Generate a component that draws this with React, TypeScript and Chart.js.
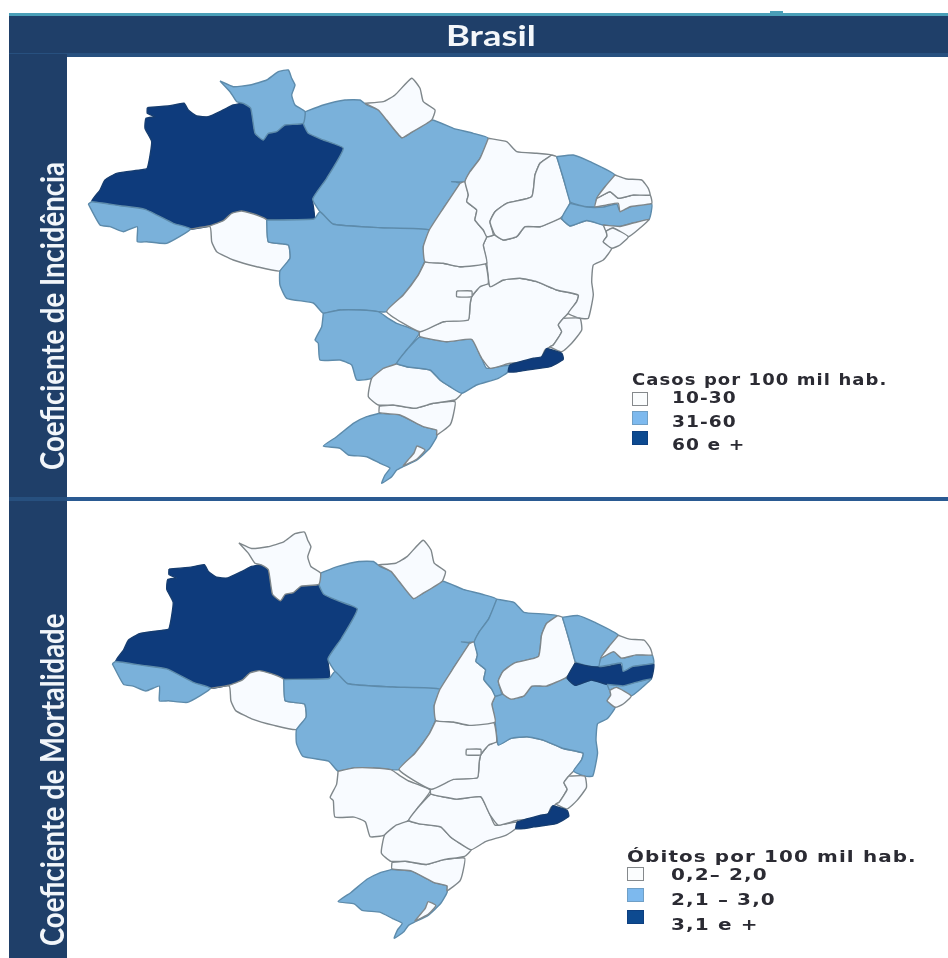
import React, { useEffect, useRef } from "react";
import { Chart, registerables } from "chart.js";

Chart.register(...registerables);

// ---- Map outlines, in map units ----
const AM = [[147.3,107.7],[170,105.7],[184,103.3],[188.3,110],[196.7,116],[208.3,116.7],[223.3,110],[233.3,105],[243.3,103.3],[250.7,108.3],[255,133.3],[263.3,140],[268.3,133.3],[276.7,131.7],[285,125],[303.3,123.3],[308.3,133.3],[323.3,140],[343.3,148.3],[326.7,178.3],[312.7,199],[314,219],[263.3,219],[256.7,215],[241.7,211],[231.7,213.3],[223.3,220.7],[210,225.7],[190.7,229],[173.3,223.3],[145,209.3],[120,205.7],[91.7,201.7],[100,190],[105,180],[116.7,173.3],[140,170],[147.3,168.3],[151.7,141.7],[145,128.3],[146,118.3],[155,116.7],[147.3,113.3]];
const AC = [[88.3,204],[100,225],[110,226.7],[123.3,231.7],[137.3,226.7],[137.3,241.7],[146.7,241.7],[166.7,243.3],[190.7,229],[173.3,223.3],[145,209.3],[120,205.7],[91.7,201.7]];
const RR = [[220,81],[233.3,86.7],[250,85],[266.7,80],[278.3,71.7],[288.3,70],[291.7,78.3],[295,85],[291.7,95],[295,105],[305,111.7],[303.3,123.3],[285,125],[276.7,131.7],[268.3,133.3],[263.3,140],[255,133.3],[250.7,108.3],[243.3,103.3],[236.7,101.7],[230,91.7]];
const RO = [[190.7,229],[210,226.7],[211.7,241.7],[216.7,251.7],[233.3,260],[256.7,266.7],[280,271],[290,258.3],[288.3,245],[268.3,241.7],[266.7,220],[256.7,215],[241.7,211],[231.7,213.3],[223.3,220.7],[210,225.7]];
const PA = [[305,111.7],[323.3,105],[345,100],[360,100],[366.7,105],[378.3,110],[386.7,120],[401.7,137.7],[410,133.3],[431.7,120],[453.3,128.3],[473.3,133.3],[488.3,138.3],[480,158.3],[470,171.7],[465,181.7],[451.7,181.7],[460,183.3],[443.3,208.3],[429.3,230],[380,227.7],[333.3,224.3],[320,211.7],[312.7,199],[326.7,178.3],[343.3,148.3],[323.3,140],[308.3,133.3],[303.3,123.3]];
const AP = [[365,103.3],[383.3,101.7],[395,95],[411.7,78.3],[420,88.3],[423.3,101.7],[435,110],[431.7,120],[410,133.3],[401.7,137.7],[386.7,120],[378.3,110]];
const MT = [[266.7,220],[314,219],[320,211.7],[333.3,224.3],[380,227.7],[429.3,230],[423.3,246.7],[425,260],[418.3,275],[403.3,295],[386.7,311.7],[378.3,311.7],[360,310],[340,310],[323.3,313.3],[313.3,303],[286.7,298.3],[280,285],[280,271],[290,258.3],[288.3,245],[268.3,241.7]];
const MS = [[323.3,313.3],[340,310],[360,310],[378.3,311.7],[388.3,318.3],[396.7,323.3],[419.3,332.7],[406.7,350],[396.7,363.3],[371.7,378.3],[356.7,380],[351.7,365],[340,360],[320,360],[318.3,343.3],[315,340],[321.7,326.7]];
const GO = [[425,261.7],[443.3,263.3],[460,266.7],[485,263.3],[488.3,283.3],[480,286.7],[471.7,296.7],[470,305],[468.3,320],[443.3,321.7],[420,331.7],[386.7,311.7],[403.3,295],[418.3,275]];
const DF = [[456.7,291],[471.7,291],[471.7,296.7],[456.7,296.7]];
const TO = [[460,183.3],[465,181.7],[468.3,195],[466.7,201.7],[476.7,210],[475,220],[483.3,230],[486.7,236.7],[483.3,245],[486.7,263.3],[460,266.7],[443.3,263.3],[425,261.7],[423.3,246.7],[429.3,230],[443.3,208.3]];
const MA = [[488.3,138.3],[506.7,141.7],[516.7,151.7],[536.7,153.3],[551.7,155],[540,163.3],[535,175],[531.7,196.7],[506.7,203.3],[495,211.7],[490,221.7],[493.3,235],[486.7,236.7],[483.3,230],[475,220],[476.7,210],[466.7,201.7],[468.3,195],[465,181.7],[470,171.7],[480,158.3]];
const PI = [[551.7,155],[556.7,156.7],[563.3,178.3],[570,201.7],[566.7,211.7],[560,218.3],[540,226.7],[525,226.7],[516.7,236.7],[503.3,240],[495,235],[490,221.7],[495,211.7],[506.7,203.3],[531.7,196.7],[535,175],[540,163.3]];
const CE = [[556.7,156.7],[573.3,155],[590,161.7],[615,175],[605,186.7],[596.7,198.3],[595,206.7],[586.7,206.7],[573.3,203.3],[570,201.7],[563.3,178.3]];
const RN = [[615,175],[626.7,179],[641.7,180],[648.3,188.3],[650,195],[633.3,195],[618.3,198.3],[610,191.7],[596.7,198.3],[605,186.7]];
const PB = [[596.7,198.3],[595,206.7],[606.7,205],[618.3,203.3],[620,211.7],[630,206.7],[651.7,203.3],[650,195],[633.3,195],[618.3,198.3],[610,191.7]];
const PE = [[570,203.3],[586.7,207],[603.3,207],[616.7,204],[620,211],[633.3,205.5],[651.7,204],[649,219.5],[633.3,223],[620,226.5],[603.3,225],[586.7,220.5],[570,226],[561.7,218.3]];
const AL = [[603.3,225],[620,226.5],[633.3,223],[649,219.5],[640,228],[628.3,236.7],[613,228],[606,231]];
const SE = [[606,231],[613,228],[628.3,236.7],[620,245],[611.7,248.3],[603.3,241.7],[607,236]];
const BA = [[486.7,236.7],[495,235],[503.3,240],[516.7,236.7],[525,226.7],[540,226.7],[560,218.3],[570,226],[586.7,220.5],[603.3,225],[606,231],[607,236],[603.3,241.7],[611.7,248.3],[603.3,260],[593.3,265],[591.7,281.7],[593.3,295],[588.3,318.3],[580,318.3],[568.3,313.3],[576.7,301.7],[578.3,295],[556.7,290],[536.7,281.7],[520,278.3],[503.3,280],[490,286.7],[486.7,263.3],[483.3,245]];
const MG = [[490,286.7],[503.3,280],[520,278.3],[536.7,281.7],[556.7,290],[578.3,295],[576.7,301.7],[568.3,313.3],[563.3,318.3],[558.3,325],[561.7,331.7],[553.3,345],[545,350],[540,360],[510,363.3],[490,368.3],[481.7,358.3],[478.3,351.7],[471.7,339.3],[446.7,341.7],[420,336.7],[419.3,332.7],[420,331.7],[443.3,321.7],[468.3,320],[470,305],[471.7,296.7],[480,286.7],[488.3,283.3]];
const ES = [[563.3,318.3],[580,318.3],[581.7,330],[571.7,343.3],[561.7,351.7],[550,346.7],[553.3,345],[561.7,331.7],[558.3,325]];
const RJ = [[546.7,348.3],[561.7,353.3],[563.3,359.3],[550,366.7],[526.7,370],[516.7,371.7],[508.3,371.7],[510,365],[533.3,358.3],[541.7,356.7]];
const SP = [[419.3,336.7],[446.7,341.7],[471.7,339.3],[481.7,358.3],[486.7,368.3],[510,365],[508.3,371.7],[498.3,378.3],[476.7,385],[461.7,393.3],[450,386.7],[440,380],[430,370],[406.7,366.7],[396.7,363.3],[406.7,350]];
const PR = [[383.3,368.3],[396.7,364],[406.7,366.7],[430,370],[440,380],[450,386.7],[461.7,393.3],[455,400],[433.3,403.3],[415,408.3],[393.3,405],[378.3,405],[368.3,396.7],[371.7,378.3]];
const SC = [[379.3,406],[379.3,412.7],[400,415],[423.3,426.7],[436.7,430],[436.7,435],[450,425],[453.3,415],[455,401.7],[433.3,403.3],[415,408.3],[393.3,405]];
const RS = [[379.3,413.3],[400,415],[423.3,426.7],[436.7,430],[436.7,436.7],[430,448],[417,460],[403,466.7],[396.7,470],[391.7,476.7],[381.7,483.3],[385,475],[390,468],[380,463.3],[366.7,456.7],[348.3,455],[340,448.3],[323.3,446],[336.7,436.7],[353.3,423.3],[366.7,416.7]];
const LAGOA = [[403,466],[417,459],[425,450],[417,446],[414,453],[408,460]];

const STATE_NAMES = ["DF","Lagoa","RJ","ES","SE","AL","RN","PB","PE","CE","PI","MA","TO","GO","BA","MG","SP","PR","SC","RS","MS","MT","RO","AC","RR","AP","PA","AM"];
const STATE_SHAPES = [DF,LAGOA,RJ,ES,SE,AL,RN,PB,PE,CE,PI,MA,TO,GO,BA,MG,SP,PR,SC,RS,MS,MT,RO,AC,RR,AP,PA,AM];

// class of each state: 0 lowest, 1 middle, 2 highest
const INCIDENCE = { DF:0,Lagoa:0,RJ:2,ES:0,SE:0,AL:0,RN:0,PB:0,PE:1,CE:1,PI:0,MA:0,TO:0,GO:0,BA:0,MG:0,SP:1,PR:0,SC:0,RS:1,MS:1,MT:1,RO:0,AC:1,RR:1,AP:0,PA:1,AM:2 };
const MORTALITY = { DF:0,Lagoa:0,RJ:2,ES:0,SE:0,AL:1,RN:0,PB:1,PE:2,CE:1,PI:0,MA:1,TO:0,GO:0,BA:1,MG:0,SP:0,PR:0,SC:0,RS:1,MS:0,MT:1,RO:0,AC:1,RR:0,AP:0,PA:1,AM:2 };

const CLASS_FILL = ["#f8fbff", "#7ab1da", "#0e3b7c"];
const CLASS_LINE = ["#7f878b", "#5d8bab", "#163d70"];

const LEGEND_SWATCH = ["#fbfdfe", "#7db9ee", "#0d4a90"];
const INCIDENCE_TITLE = "Casos por 100 mil hab.";
const INCIDENCE_LABELS = ["10-30", "31-60", "60 e +"];
const MORTALITY_TITLE = "Óbitos por 100 mil hab.";
const MORTALITY_LABELS = ["0,2– 2,0", "2,1 – 3,0", "3,1 e +"];

function MapChart(props: { classes: any; left: number; top: number; width: number; height: number; xRange: number[]; yRange: number[] }) {
  const ref = useRef<HTMLCanvasElement>(null);
  useEffect(() => {
    const chart = new Chart(ref.current as HTMLCanvasElement, {
      type: "scatter",
      data: {
        datasets: STATE_NAMES.map((name, i) => {
          const c = props.classes[name];
          const pts = STATE_SHAPES[i].map(([x, y]) => ({ x, y }));
          pts.push(pts[0]);
          return {
            label: name,
            data: pts,
            showLine: true,
            fill: "shape",
            backgroundColor: CLASS_FILL[c],
            borderColor: CLASS_LINE[c],
            borderWidth: 1.4,
            borderJoinStyle: "round",
            pointRadius: 0,
            tension: 0.15,
            clip: false,
          };
        }) as any,
      },
      options: {
        animation: false,
        responsive: false,
        events: [],
        layout: { padding: 0 },
        plugins: { legend: { display: false }, tooltip: { enabled: false }, title: { display: false } },
        scales: {
          x: { type: "linear", display: false, min: props.xRange[0], max: props.xRange[1] },
          y: { type: "linear", display: false, reverse: true, min: props.yRange[0], max: props.yRange[1] },
        },
      },
    });
    return () => chart.destroy();
  }, []);
  return (
    <canvas
      ref={ref}
      width={props.width}
      height={props.height}
      style={{ position: "absolute", left: props.left, top: props.top, width: props.width, height: props.height, filter: "blur(0.6px)" }}
    />
  );
}

function MapLegend(props: { title: string; labels: string[]; x: number; titleY: number; boxW: number; boxY: number[]; labelX: number; labelY: number[]; titleSize: number; titleScale: number; labelSize: number; labelScale: number }) {
  const base: React.CSSProperties = { position: "absolute", fontFamily: "'DejaVu Sans'", fontWeight: 700, color: "#2b2b33", whiteSpace: "pre", lineHeight: "16px", filter: "blur(0.4px)", transformOrigin: "0 50%", letterSpacing: 0.9 };
  return (
    <>
      <div style={{ ...base, left: props.x, top: props.titleY - 8, fontSize: props.titleSize, transform: `scaleX(${props.titleScale})` }}>{props.title}</div>
      {props.labels.map((l, i) => (
        <React.Fragment key={l}>
          <div style={{ position: "absolute", boxSizing: "border-box", left: props.x, top: props.boxY[i], width: props.boxW, height: 14, background: LEGEND_SWATCH[i], border: "1.5px solid " + (i === 0 ? "#85898c" : i === 1 ? "#6f9fc6" : "#0d3f80"), filter: "blur(0.4px)" }} />
          <div style={{ ...base, left: props.labelX, top: props.labelY[i] - 8, fontSize: props.labelSize, transform: `scaleX(${props.labelScale})` }}>{l}</div>
        </React.Fragment>
      ))}
    </>
  );
}

const sideLabel = (bottom: number, scaleX: number): React.CSSProperties => ({
  position: "absolute",
  left: 52,
  top: bottom,
  fontFamily: "Lato",
  fontWeight: 700,
  fontSize: 32,
  lineHeight: "32px",
  color: "#f2f6fa",
  whiteSpace: "nowrap",
  transformOrigin: "0 50%",
  transform: `translateY(-50%) rotate(-90deg) scaleX(${scaleX})`,
  filter: "blur(0.5px)",
});

export default function App() {
  return (
    <div style={{ position: "absolute", left: 0, top: 0, width: 948, height: 958, overflow: "hidden", background: "#ffffff" }}>
      <div style={{ position: "absolute", left: 770, top: 11, width: 13, height: 3, background: "#4a9fb8" }} />
      <div style={{ position: "absolute", left: 9, top: 13, width: 939, height: 3, background: "#4a9fb8" }} />
      <div style={{ position: "absolute", left: 9, top: 16, width: 939, height: 38, background: "#1f3f69" }} />
      <div style={{ position: "absolute", left: 9, top: 53, width: 939, height: 4, background: "#27507f" }} />
      <div style={{ position: "absolute", left: 9, top: 54, width: 58, height: 904, background: "#1f3f69" }} />
      <div style={{ position: "absolute", left: 67, top: 497, width: 881, height: 4, background: "#2a5a92" }} />
      <div style={{ position: "absolute", left: 9, top: 497, width: 58, height: 4, background: "#27507f" }} />
      <div style={{ position: "absolute", left: 446, top: 20, fontFamily: "Lato", fontWeight: 700, fontSize: 28, lineHeight: "30px", color: "#f4f7fa", filter: "blur(0.4px)", transformOrigin: "0 50%", transform: "scaleX(1.3)" }}>Brasil</div>
      <div style={sideLabel(470, 0.862)}>Coeficiente de Incidência</div>
      <div style={sideLabel(946, 0.858)}>Coeficiente de Mortalidade</div>

      <MapChart classes={INCIDENCE} left={68} top={57} width={880} height={438} xRange={[68, 948]} yRange={[57, 495]} />
      <MapChart classes={MORTALITY} left={68} top={501} width={880} height={457} xRange={[42.2, 958]} yRange={[38.4, 503.4]} />

      <MapLegend title={INCIDENCE_TITLE} labels={INCIDENCE_LABELS} x={632} titleY={380} boxW={16} boxY={[392, 411, 431]} labelX={672} labelY={[398, 422, 445]} titleSize={15} titleScale={1.2} labelSize={15.5} labelScale={1.2} />
      <MapLegend title={MORTALITY_TITLE} labels={MORTALITY_LABELS} x={627} titleY={857} boxW={17} boxY={[867, 888, 910]} labelX={671} labelY={[875, 900, 925]} titleSize={16} titleScale={1.245} labelSize={16} labelScale={1.25} />
    </div>
  );
}
